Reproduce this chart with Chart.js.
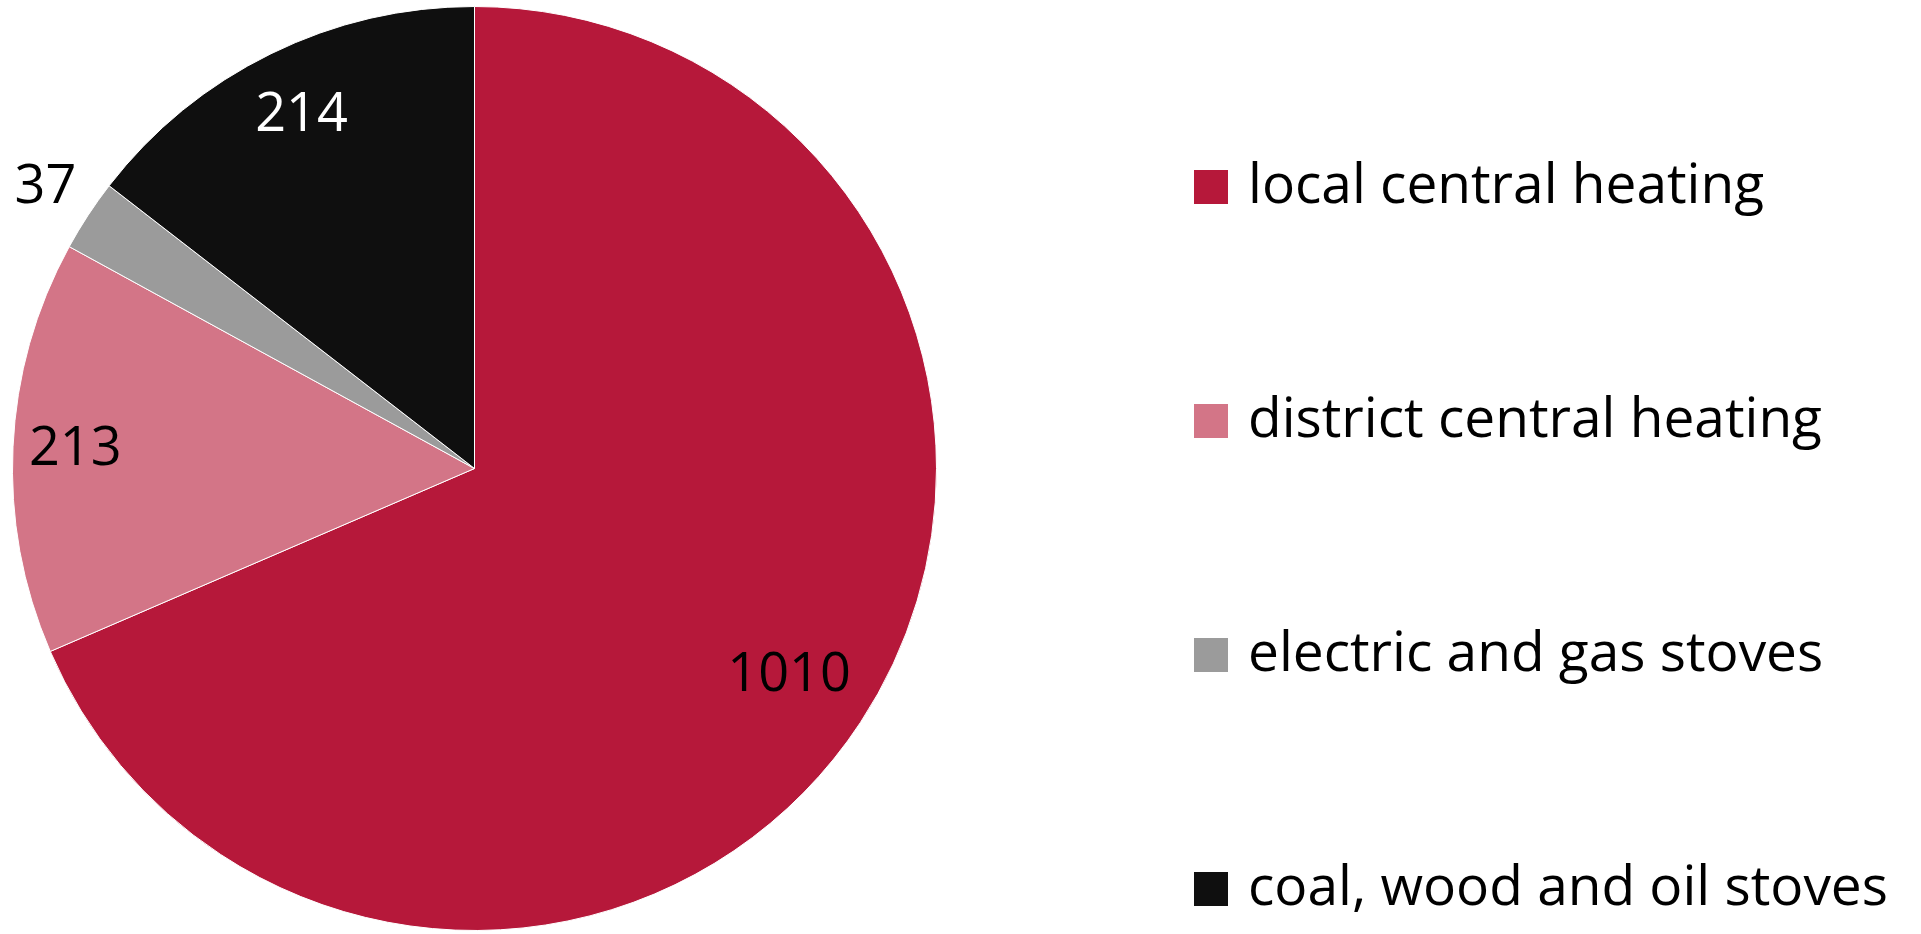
<!DOCTYPE html>
<html>
<head>
<meta charset="utf-8">
<script src="https://cdn.jsdelivr.net/npm/chart.js@4"></script>
<style>
  html, body { margin: 0; padding: 0; background: #fff; }
  #wrap { width: 1921px; height: 934px; position: relative; }
</style>
</head>
<body>
<div id="wrap"><canvas id="heatingChart"></canvas></div>
<script>
const categories = ['local central heating', 'district central heating', 'electric and gas stoves', 'coal, wood and oil stoves'];
const values = [1010, 213, 37, 214];
const colors = ['#b6183a', '#d37587', '#9b9b9b', '#0f0f0f'];
const labelColors = ['#000', '#000', '#000', '#fff'];

const FONT = '"Open Sans", "Noto Sans", sans-serif';

// value labels, placed along each slice's middle angle
const valueLabels = {
  id: 'valueLabels',
  afterDatasetsDraw(chart) {
    const ctx = chart.ctx;
    const meta = chart.getDatasetMeta(0);
    const dist = [0.815, 0.865, 1.11, 0.85];
    ctx.save();
    ctx.font = '54px ' + FONT;
    ctx.textAlign = 'center';
    ctx.textBaseline = 'middle';
    meta.data.forEach((arc, i) => {
      const mid = (arc.startAngle + arc.endAngle) / 2;
      const r = arc.outerRadius * dist[i];
      ctx.fillStyle = labelColors[i];
      ctx.fillText(String(values[i]), arc.x + Math.cos(mid) * r, arc.y + Math.sin(mid) * r);
    });
    ctx.restore();
  }
};

// legend on the right, one row per category
const sideLegend = {
  id: 'sideLegend',
  afterDraw(chart) {
    const ctx = chart.ctx;
    ctx.save();
    ctx.font = '55px ' + FONT;
    ctx.textBaseline = 'middle';
    categories.forEach((name, i) => {
      const y = 187 + i * 234;
      ctx.fillStyle = colors[i];
      ctx.fillRect(1194, y - 17, 34, 34);
      ctx.fillStyle = '#000';
      ctx.fillText(name, 1248, y);
    });
    ctx.restore();
  }
};

new Chart(document.getElementById('heatingChart'), {
  type: 'pie',
  data: {
    labels: categories,
    datasets: [{
      data: values,
      backgroundColor: colors,
      borderColor: '#ffffff',
      borderWidth: 1
    }]
  },
  options: {
    responsive: true,
    maintainAspectRatio: false,
    animation: false,
    layout: { padding: { left: 12, top: 6, bottom: 3, right: 984 } },
    plugins: {
      legend: { display: false },
      tooltip: { enabled: false }
    }
  },
  plugins: [valueLabels, sideLegend]
});
</script>
</body>
</html>
